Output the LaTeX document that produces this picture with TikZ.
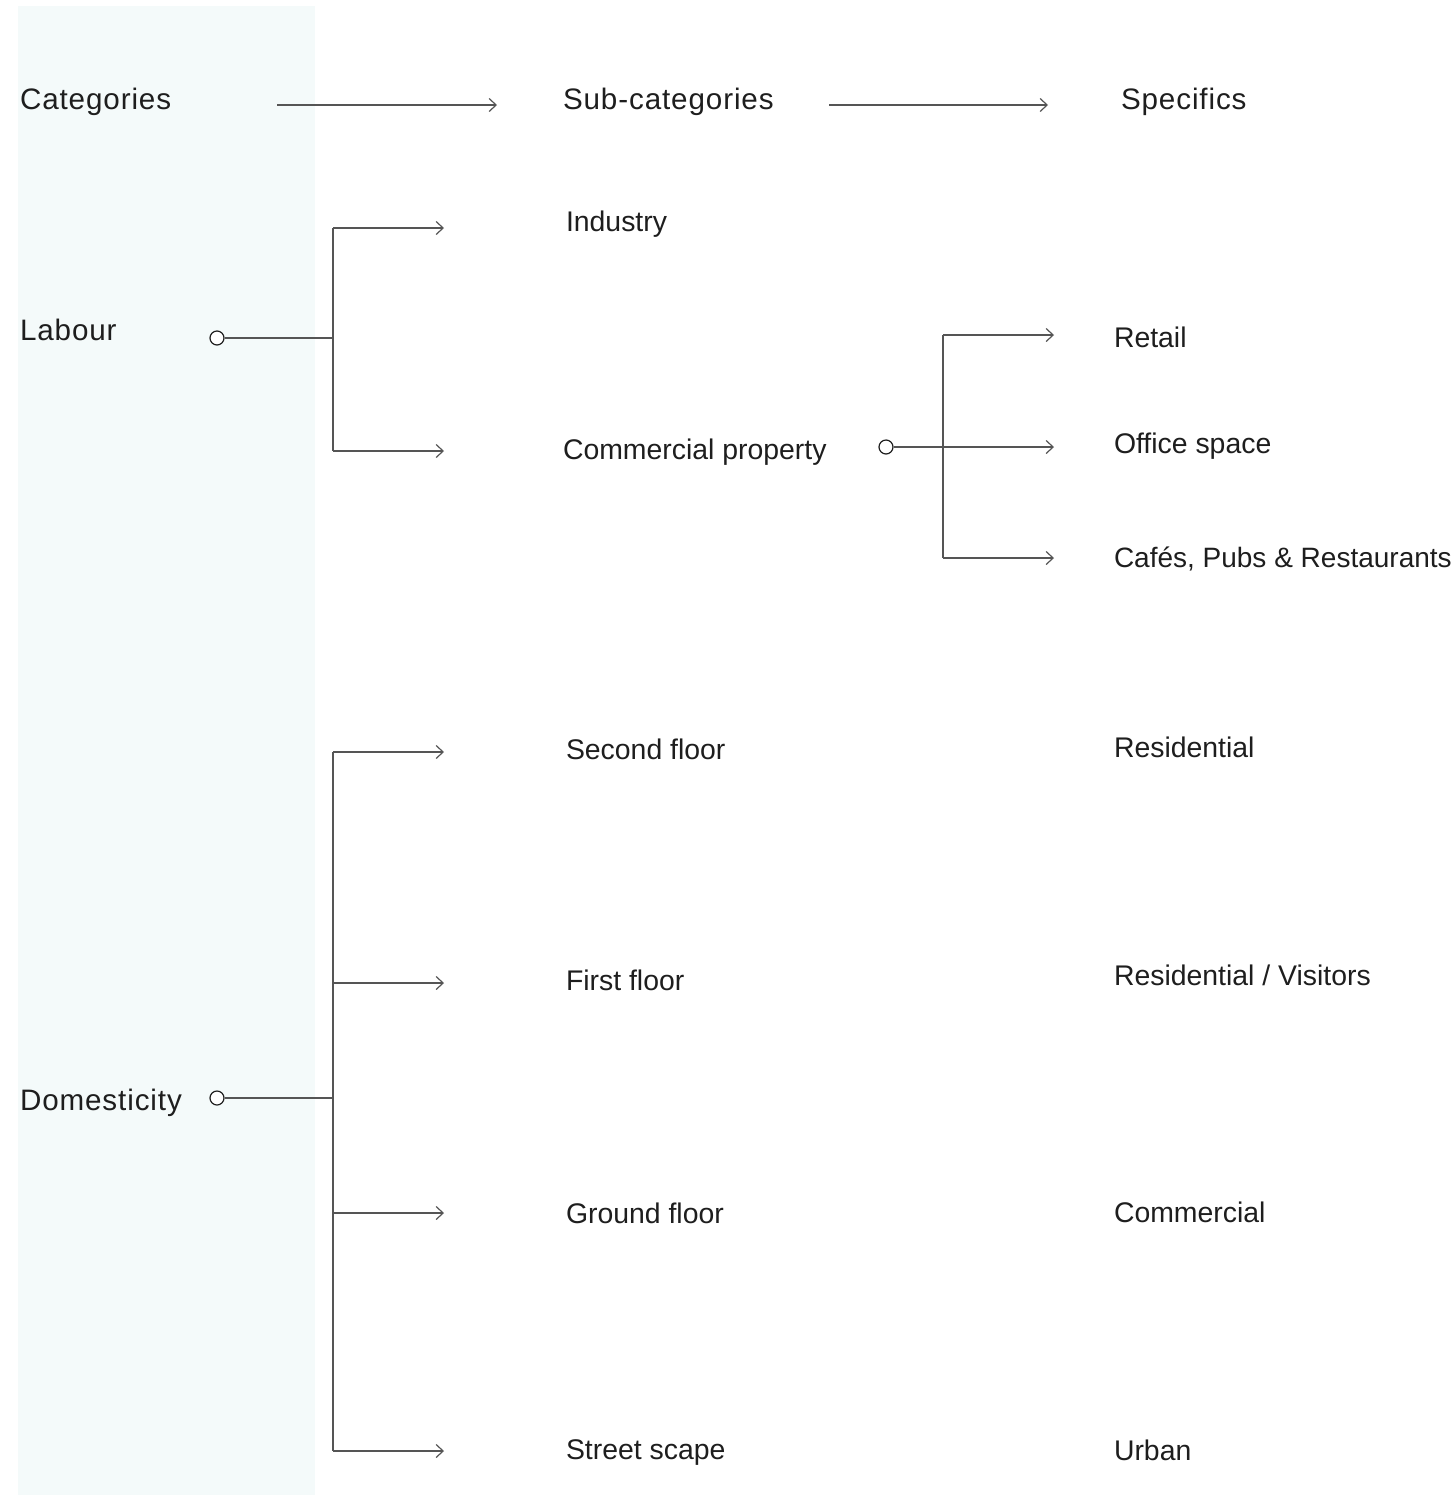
\documentclass[tikz,border=0pt]{standalone}
\usepackage{fontspec}
\setmainfont{Liberation Sans}
\usetikzlibrary{arrows.meta}
\definecolor{panel}{HTML}{F4FAFA}
\definecolor{ink}{HTML}{1E1E1E}
\definecolor{wire}{HTML}{555555}
\begin{document}
\begin{tikzpicture}[x=0.5pt,y=-0.5pt,
  lbl/.style={anchor=base west,inner sep=0pt,outer sep=0pt,text=ink,font=\fontsize{14.2}{16}\selectfont},
  big/.style={lbl,font=\fontsize{14.8}{17}\selectfont\addfontfeature{LetterSpace=3}},
  wirestyle/.style={draw=wire,line width=0.65pt},
  arr/.style={wirestyle,-{Straight Barb[length=3.5pt,width=6.5pt,line width=0.6pt]}},
  knob/.style={circle,draw=ink,line width=0.6pt,fill=white,minimum size=7pt,inner sep=0pt}]
\useasboundingbox (0,0) rectangle (1456,1495);
\fill[panel] (18,6) rectangle (315,1495);
% header
\node[big] (cat) at (20,109) {Categories};
\node[big] (sub) at (563,109) {Sub-categories};
\node[big] (spec) at (1121,109) {Specifics};
\coordinate (h1a) at (277,105); \coordinate (h1b) at (497,105);
\coordinate (h2a) at (829,105); \coordinate (h2b) at (1048,105);
\draw[arr] (h1a) -- (h1b);
\draw[arr] (h2a) -- (h2b);
% Labour
\node[big] (lab) at (20,340) {Labour};
\node[lbl] (ind) at (566,231) {Industry};
\node[lbl] (com) at (563,459) {Commercial property};
\node[lbl] (ret) at (1114,347) {Retail};
\node[lbl] (off) at (1114,453) {Office space};
\node[lbl,font=\fontsize{14}{16}\selectfont] (caf) at (1114,567) {Caf\'es, Pubs \& Restaurants};
\coordinate (labJ) at (333,338);
\coordinate (labT) at (333,228); \coordinate (labB) at (333,451);
\coordinate (indE) at (444,228); \coordinate (comE) at (444,451);
\draw[wirestyle] (labT) -- (labB);
\draw[arr] (labT) -- (indE);
\draw[arr] (labB) -- (comE);
\coordinate (comJ) at (943,447);
\coordinate (comT) at (943,335); \coordinate (comB) at (943,558);
\coordinate (retE) at (1054,335); \coordinate (offE) at (1054,447); \coordinate (cafE) at (1054,558);
\draw[wirestyle] (comT) -- (comB);
\draw[arr] (comT) -- (retE);
\draw[arr] (comB) -- (cafE);
\node[knob] (k1) at (217,338) {};
\draw[wirestyle] (k1) -- (labJ);
\node[knob] (k2) at (886,447) {};
\draw[arr] (k2) -- (offE);
% Domesticity
\node[big] (dom) at (20,1110) {Domesticity};
\node[lbl] (sec) at (566,759) {Second floor};
\node[lbl] (fir) at (566,990) {First floor};
\node[lbl] (gro) at (566,1223) {Ground floor};
\node[lbl] (str) at (566,1459) {Street scape};
\node[lbl] (res) at (1114,757) {Residential};
\node[lbl] (rv) at (1114,985) {Residential / Visitors};
\node[lbl] (cm) at (1114,1222) {Commercial};
\node[lbl] (urb) at (1114,1460) {Urban};
\coordinate (domJ) at (333,1098);
\coordinate (d1) at (333,752); \coordinate (d2) at (333,983);
\coordinate (d3) at (333,1213); \coordinate (d4) at (333,1451);
\coordinate (e1) at (444,752); \coordinate (e2) at (444,983);
\coordinate (e3) at (444,1213); \coordinate (e4) at (444,1451);
\draw[wirestyle] (d1) -- (d4);
\draw[arr] (d1) -- (e1);
\draw[arr] (d2) -- (e2);
\draw[arr] (d3) -- (e3);
\draw[arr] (d4) -- (e4);
\node[knob] (k3) at (217,1098) {};
\draw[wirestyle] (k3) -- (domJ);
\end{tikzpicture}
\end{document}
